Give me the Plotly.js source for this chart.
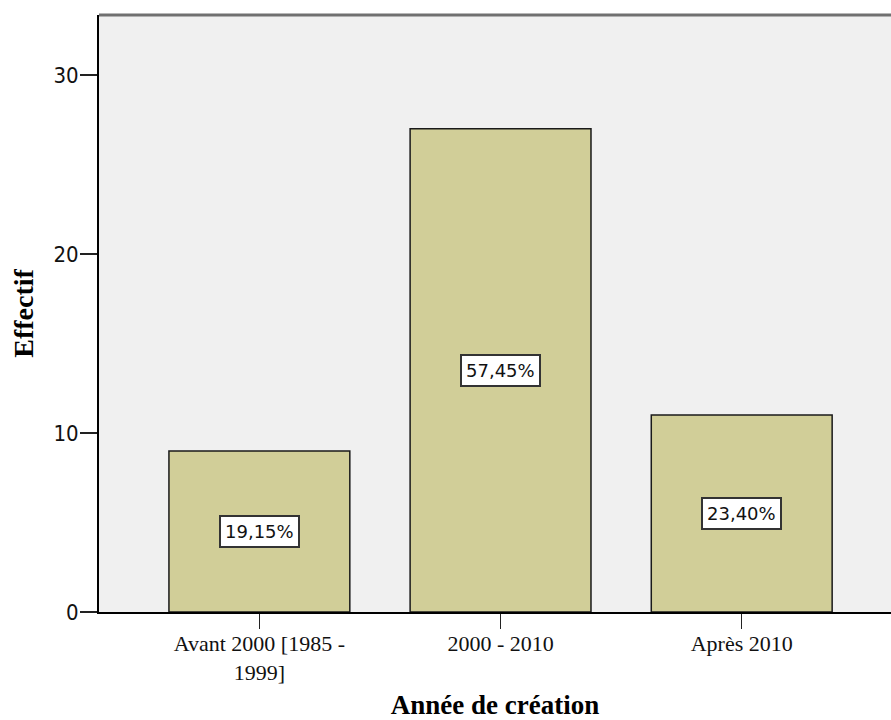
<!DOCTYPE html>
<html>
<head>
<meta charset="utf-8">
<script src="https://cdn.plot.ly/plotly-3.0.1.min.js"></script>
<style>html,body{margin:0;padding:0;background:#fff;}#chart{width:891px;height:720px;}</style>
</head>
<body>
<div id="chart"></div>
<script>
const categories = ["Avant 2000 [1985 -<br>1999]", "2000 - 2010", "Après 2010"];
const counts = [9, 27, 11];
const percentLabels = ["19,15%", "57,45%", "23,40%"];
const yTicks = [0, 10, 20, 30];

const trace = {
  type: "bar",
  x: categories,
  y: counts,
  width: 0.75,
  marker: {color: "#d1ce98", line: {color: "#1a1a1a", width: 1.5}},
  hoverinfo: "x+y"
};

const annotations = categories.map((c, i) => ({
  x: c, y: counts[i] / 2, xref: "x", yref: "y",
  text: percentLabels[i], showarrow: false,
  font: {family: "DejaVu Sans", size: 18, color: "#111"},
  bgcolor: "#ffffff", bordercolor: "#333333", borderwidth: 2, borderpad: 4
}));

const layout = {
  width: 891, height: 720,
  margin: {l: 99, r: 0, t: 15, b: 108},
  paper_bgcolor: "#ffffff",
  plot_bgcolor: "#f0f0f0",
  showlegend: false,
  xaxis: {
    type: "category",
    range: [-0.665, 2.619],
    showline: true, linecolor: "#000", linewidth: 2,
    ticks: "outside", ticklen: 15, tickwidth: 1.5, tickcolor: "#222",
    ticklabelstandoff: -4,
    showgrid: false, zeroline: false,
    tickfont: {family: "Liberation Serif", size: 22, color: "#111"},
    title: {text: "Année de création", font: {family: "Liberation Serif", size: 27, color: "#000", weight: "bold"}, standoff: 18}
  },
  yaxis: {
    range: [0, 33.35],
    tickvals: yTicks,
    showline: true, linecolor: "#000", linewidth: 2,
    ticks: "outside", ticklen: 17, tickwidth: 1.5, tickcolor: "#222",
    ticklabelstandoff: -3,
    showgrid: false, zeroline: false,
    tickfont: {family: "DejaVu Sans Condensed, DejaVu Sans", size: 22, color: "#111"},
    title: {text: "Effectif", font: {family: "Liberation Serif", size: 28, color: "#000", weight: "bold"}, standoff: 12}
  },
  shapes: [{type: "line", xref: "paper", yref: "paper", x0: 0, x1: 1, y0: 1, y1: 1, line: {color: "#707070", width: 3}}],
  annotations: annotations
};

Plotly.newPlot("chart", [trace], layout, {displayModeBar: false, staticPlot: true});
</script>
</body>
</html>
